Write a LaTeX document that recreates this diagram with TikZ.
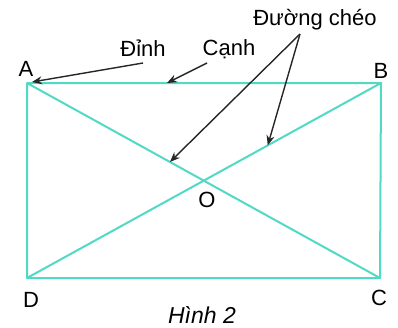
\documentclass[tikz,border=0pt]{standalone}
\usepackage{fontspec}
\setmainfont{Liberation Sans}
\usetikzlibrary{calc,arrows.meta}
\definecolor{hinh}{RGB}{80,218,198}
\tikzset{x=1pt, y=-1pt,
  canh/.style={draw=hinh, line width=2pt, line join=round},
  nhan/.style={inner sep=0pt, font=\fontsize{22}{24}\selectfont},
  chiden/.style={-{Stealth[length=10pt,width=8pt]}, line width=1.4pt, black!85}}

\begin{document}
\begin{tikzpicture}
\useasboundingbox (0,0) rectangle (398,327);
\coordinate (A) at (27,83);
\coordinate (B) at (381,83);
\coordinate (C) at (380,278);
\coordinate (D) at (27,278);
\draw[canh] (A) -- (B) -- (C) -- (D) -- cycle;
\draw[canh] (A) -- (C);
\draw[canh] (D) -- (B);
\node[nhan] (a) at (26,69) {A};
\node[nhan] (b) at (381,71) {B};
\node[nhan] (c) at (379,298) {C};
\node[nhan] (d) at (31,300) {D};
\node[nhan] (o) at (207,200) {O};
\node[nhan] (dinh) at (143,48) {Đỉnh};
\node[nhan] (canh) at (229,49) {Cạnh};
\node[nhan] (duongcheo) at (315,20) {Đường chéo};
\node[nhan, font=\fontsize{23}{24}\selectfont\itshape] (hinh2) at (202,315) {Hình 2};
% mui ten chi vao hinh
\coordinate (dinhx) at (143,63);
\coordinate (canhx) at (207,63);
\coordinate (cheo) at (300,34);
\coordinate (tA) at (32,82);
\coordinate (tAB) at (167,83);
\coordinate (tAC) at ($(A)!0.405!(C)$);
\coordinate (tBD) at ($(D)!0.68!(B)$);
\draw[chiden] (dinhx) -- (tA);
\draw[chiden] (canhx) -- (tAB);
\draw[chiden] (cheo) -- (tAC);
\draw[chiden] (cheo) -- (tBD);
\end{tikzpicture}
\end{document}
